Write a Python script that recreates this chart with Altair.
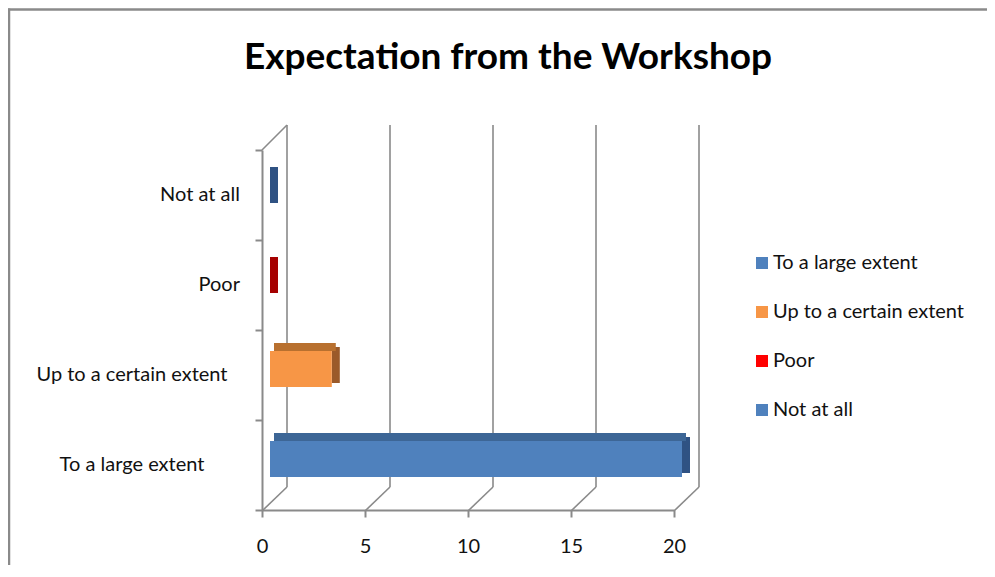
import altair as alt
import pandas as pd

# ---- data ----
categories = ["Not at all", "Poor", "Up to a certain extent", "To a large extent"]
values = [0, 0, 3, 20]
legend_names = ["Not at all", "Poor", " Up to a certain extent", "To a large extent"]
front_colors = ["#2F5283", "#C00000", "#F79646", "#4F81BD"]
top_colors = ["#2A4A75", "#A00000", "#B8702F", "#3D6696"]
side_colors = ["#2F5283", "#A50000", "#9A5A2A", "#2F5283"]

legend_order = ["To a large extent", " Up to a certain extent", "Poor", "Not at all"]
legend_colors = ["#4F81BD", "#F79646", "#FF0000", "#4F81BD"]

x_ticks = [0, 5, 10, 15, 20]
title_text = "Expectation from the Workshop"

df = pd.DataFrame({
    "category": categories,
    "value": values,
    "zero": [0] * len(categories),
    "legend": legend_names,
    "front": front_colors,
    "top": top_colors,
    "side": side_colors,
})
ticks_df = pd.DataFrame({"tick": x_ticks})

GRAY = "#8A8A8A"
FONT = "Lato"
TEXT = "#111111"

xscale = alt.Scale(domain=[0, 20], nice=False, zero=True)
yscale = alt.Scale(paddingInner=0, paddingOuter=0)

x_axis = alt.Axis(
    title=None, values=x_ticks, grid=False, domainColor=GRAY, domainWidth=2,
    tickColor=GRAY, tickWidth=2, tickSize=7, labelFont=FONT, labelFontSize=20,
    labelColor=TEXT, labelPadding=19, labelFlush=False,
)
y_axis = alt.Axis(
    title=None, tickBand="extent", grid=False, domainColor=GRAY, domainWidth=2, tickColor=GRAY,
    tickWidth=2, tickSize=7, labels=False,
)

def X(field):
    return alt.X(field, scale=xscale, axis=x_axis)

def Y():
    return alt.Y("category:N", sort=categories, scale=yscale, axis=y_axis)

one = alt.Data(values=[{"z": 0}])

# outer frame (decorative)
frame_top = alt.Chart(one).mark_rule(color=GRAY, strokeWidth=2.5).encode(
    x=alt.value(-254), x2=alt.value(740), y=alt.value(-140.5), y2=alt.value(-140.5)
)
frame_left = alt.Chart(one).mark_rule(color=GRAY, strokeWidth=2.5).encode(
    x=alt.value(-253), x2=alt.value(-253), y=alt.value(-141.5), y2=alt.value(440)
)

# back wall verticals
back = alt.Chart(ticks_df).mark_rule(color=GRAY, strokeWidth=1.6, xOffset=25).encode(
    x=X("tick:Q"),
    y=alt.value(-25), y2=alt.value(337),
)
# floor diagonals
floor = alt.Chart(ticks_df).mark_rule(color=GRAY, strokeWidth=1.6, x2Offset=25).encode(
    x=X("tick:Q"),
    x2="tick:Q",
    y=alt.value(361), y2=alt.value(337),
)
# top-left wall diagonal
wall_diag = alt.Chart(one).mark_rule(color=GRAY, strokeWidth=1.6, x2Offset=25).encode(
    x=X("z:Q"),
    x2="z:Q",
    y=alt.value(0), y2=alt.value(-25),
)

side = alt.Chart(df).mark_bar(xOffset=8, x2Offset=16, yOffset=-10, size=36).encode(
    x=X("value:Q"),
    x2="value:Q",
    y=Y(),
    color=alt.Color("side:N", scale=None),
)
top = alt.Chart(df).mark_bar(xOffset=12, x2Offset=12, yOffset=-28, size=8).encode(
    x=X("zero:Q"),
    x2="value:Q",
    y=Y(),
    color=alt.Color("top:N", scale=None),
)
front = alt.Chart(df).mark_bar(xOffset=8, x2Offset=8, yOffset=-6, size=36).encode(
    x=X("zero:Q"),
    x2="value:Q",
    y=Y(),
    color=alt.Color(
        "legend:N",
        scale=alt.Scale(domain=legend_order, range=legend_colors),
        legend=alt.Legend(
            title=None, orient="none", legendX=490, legendY=103, symbolType="square",
            symbolSize=144, symbolStrokeWidth=0, labelFont=FONT, labelFontSize=20,
            labelColor=TEXT, rowPadding=29, labelOffset=1, labelLimit=400,
        ),
    ),
)

# category labels (long ones are centred in the label area, as in the original)
cat_labels = alt.Chart(df).mark_text(
    font=FONT, fontSize=20, color=TEXT, baseline="middle",
    align=alt.expr("length(datum.category) > 12 ? 'center' : 'right'"),
    dx=alt.expr("length(datum.category) > 12 ? -108 : 0"),
).encode(
    text="category:N",
    y=Y(),
    x=alt.value(-22),
)

title = alt.Chart(alt.Data(values=[{"t": title_text}])).mark_text(
    font=FONT, fontSize=37, fontWeight="bold", color="#000000", align="center",
    baseline="alphabetic",
).encode(text="t:N", x=alt.value(246), y=alt.value(-81))

chart = alt.layer(
    frame_top, frame_left, back, floor, wall_diag, side, top, front, cat_labels, title
).properties(
    width=412,
    height=360,
    autosize=alt.AutoSizeParams(type="none"),
    padding={"left": 254, "top": 142, "right": 313, "bottom": 55},
    background="white",
).configure_view(stroke=None)

chart.save("out.html", embed_options={"renderer": "svg", "actions": False})
